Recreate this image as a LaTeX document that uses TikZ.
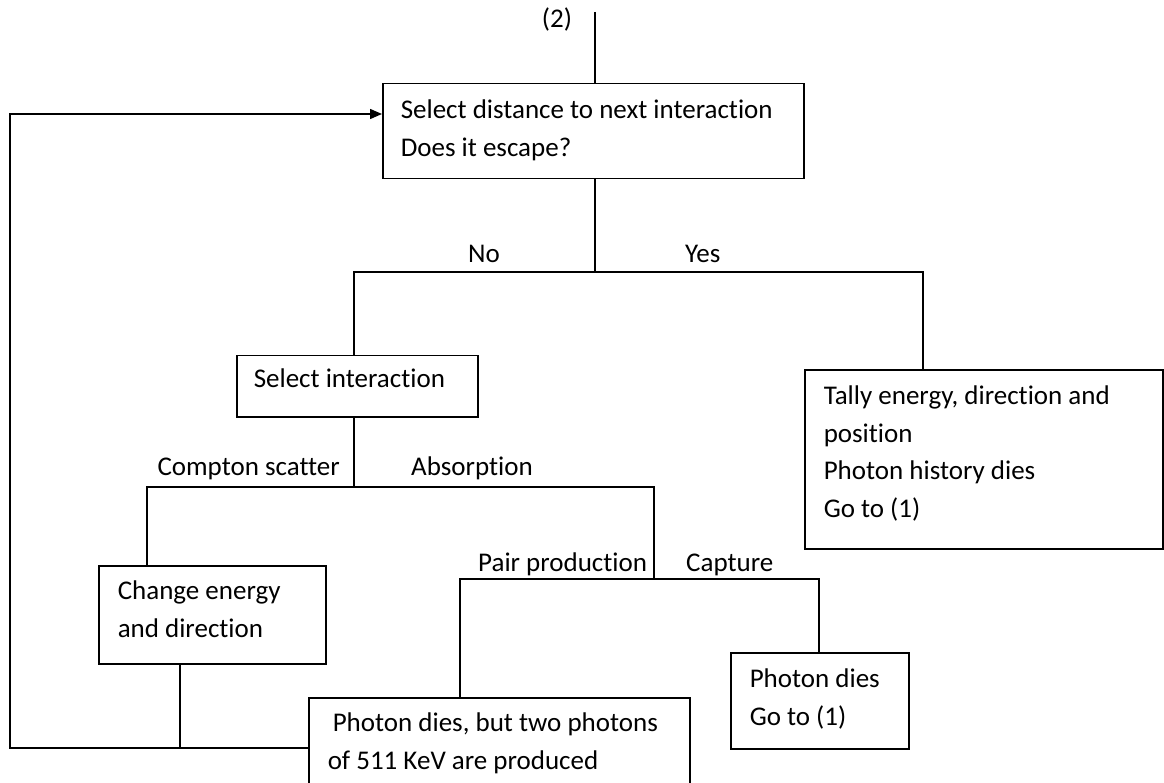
\documentclass[tikz,border=0pt]{standalone}
\usepackage{fontspec}
\setmainfont{Carlito}[Ligatures=NoCommon]
\usetikzlibrary{arrows.meta}
\newcommand{\boxtxt}[5]{\parbox[t][#2][t]{#1}{\raggedright\leftskip=#3\relax\baselineskip=37.5pt\rule{0pt}{#4}#5}}
\begin{document}
\begin{tikzpicture}[x=1pt,y=-1pt,
  every node/.style={font=\fontsize{27}{37.5}\selectfont},
  box/.style={draw, line width=1.5pt, anchor=north west, inner sep=0pt},
  lbl/.style={anchor=base west, inner sep=0pt},
  conn/.style={line width=1.5pt},
  arr/.style={line width=1.5pt, -{Triangle[length=12pt,width=10pt]}}]
\useasboundingbox (0,0) rectangle (1164,783);
\clip (0,0) rectangle (1164,783);
% boxes
\node[box] (b1) at (382,83) {\boxtxt{421pt}{95pt}{18pt}{35pt}{Select distance to next interaction\\Does it escape?}};
\node[box] (b2) at (236,355) {\boxtxt{241pt}{61pt}{17pt}{32pt}{Select interaction}};
\node[box] (b3) at (804,369) {\boxtxt{358pt}{179pt}{19pt}{35pt}{Tally energy, direction and\\position\\Photon history dies\\Go to (1)}};
\node[box] (b4) at (98,565) {\boxtxt{227pt}{98pt}{19pt}{34pt}{Change energy\\and direction}};
\node[box] (b5) at (308,697) {\boxtxt{381pt}{93pt}{19pt}{34pt}{\hspace*{5pt}Photon dies, but two photons\\of 511 KeV are produced}};
\node[box] (b6) at (730,652) {\boxtxt{178pt}{96pt}{19pt}{35pt}{Photon dies\\Go to (1)}};
% labels
\node[lbl, anchor=base] (l2) at (557,28) {(2)};
\node[lbl] (lno) at (468,263) {No};
\node[lbl] (lyes) at (685,263) {Yes};
\node[lbl, anchor=base east] (lcs) at (340,475) {Compton scatter};
\node[lbl] (lab) at (411,475) {Absorption};
\node[lbl] (lpp) at (478,571) {Pair production};
\node[lbl] (lca) at (686,571) {Capture};
% junction coordinates
\coordinate (top) at (595,12);
\coordinate (j1) at (595,272);
\coordinate (c2) at (354,272);
\coordinate (c3) at (923,272);
\coordinate (j2) at (354,487);
\coordinate (c4) at (147,487);
\coordinate (c5) at (654,487);
\coordinate (c6) at (460,579);
\coordinate (c7) at (819,579);
\coordinate (fb1) at (180,748);
\coordinate (fb2) at (10,748);
\coordinate (fb3) at (10,114);
% connectors
\draw[conn] (top) -- (top |- b1.north);
\draw[conn] (top |- b1.south) -- (j1);
\draw[conn] (b2.north -| c2) -- (c2) -- (c3) -- (b3.north -| c3);
\draw[conn] (b2.south -| j2) -- (j2);
\draw[conn] (b4.north -| c4) -- (c4) -- (c5) -- (c5 |- c6);
\draw[conn] (b5.north -| c6) -- (c6) -- (c7) -- (b6.north -| c7);
\draw[conn] (b4.south -| fb1) -- (fb1);
\draw[arr] (b5.west |- fb1) -- (fb2) -- (fb3) -- (b1.west |- fb3);
\end{tikzpicture}
\end{document}
